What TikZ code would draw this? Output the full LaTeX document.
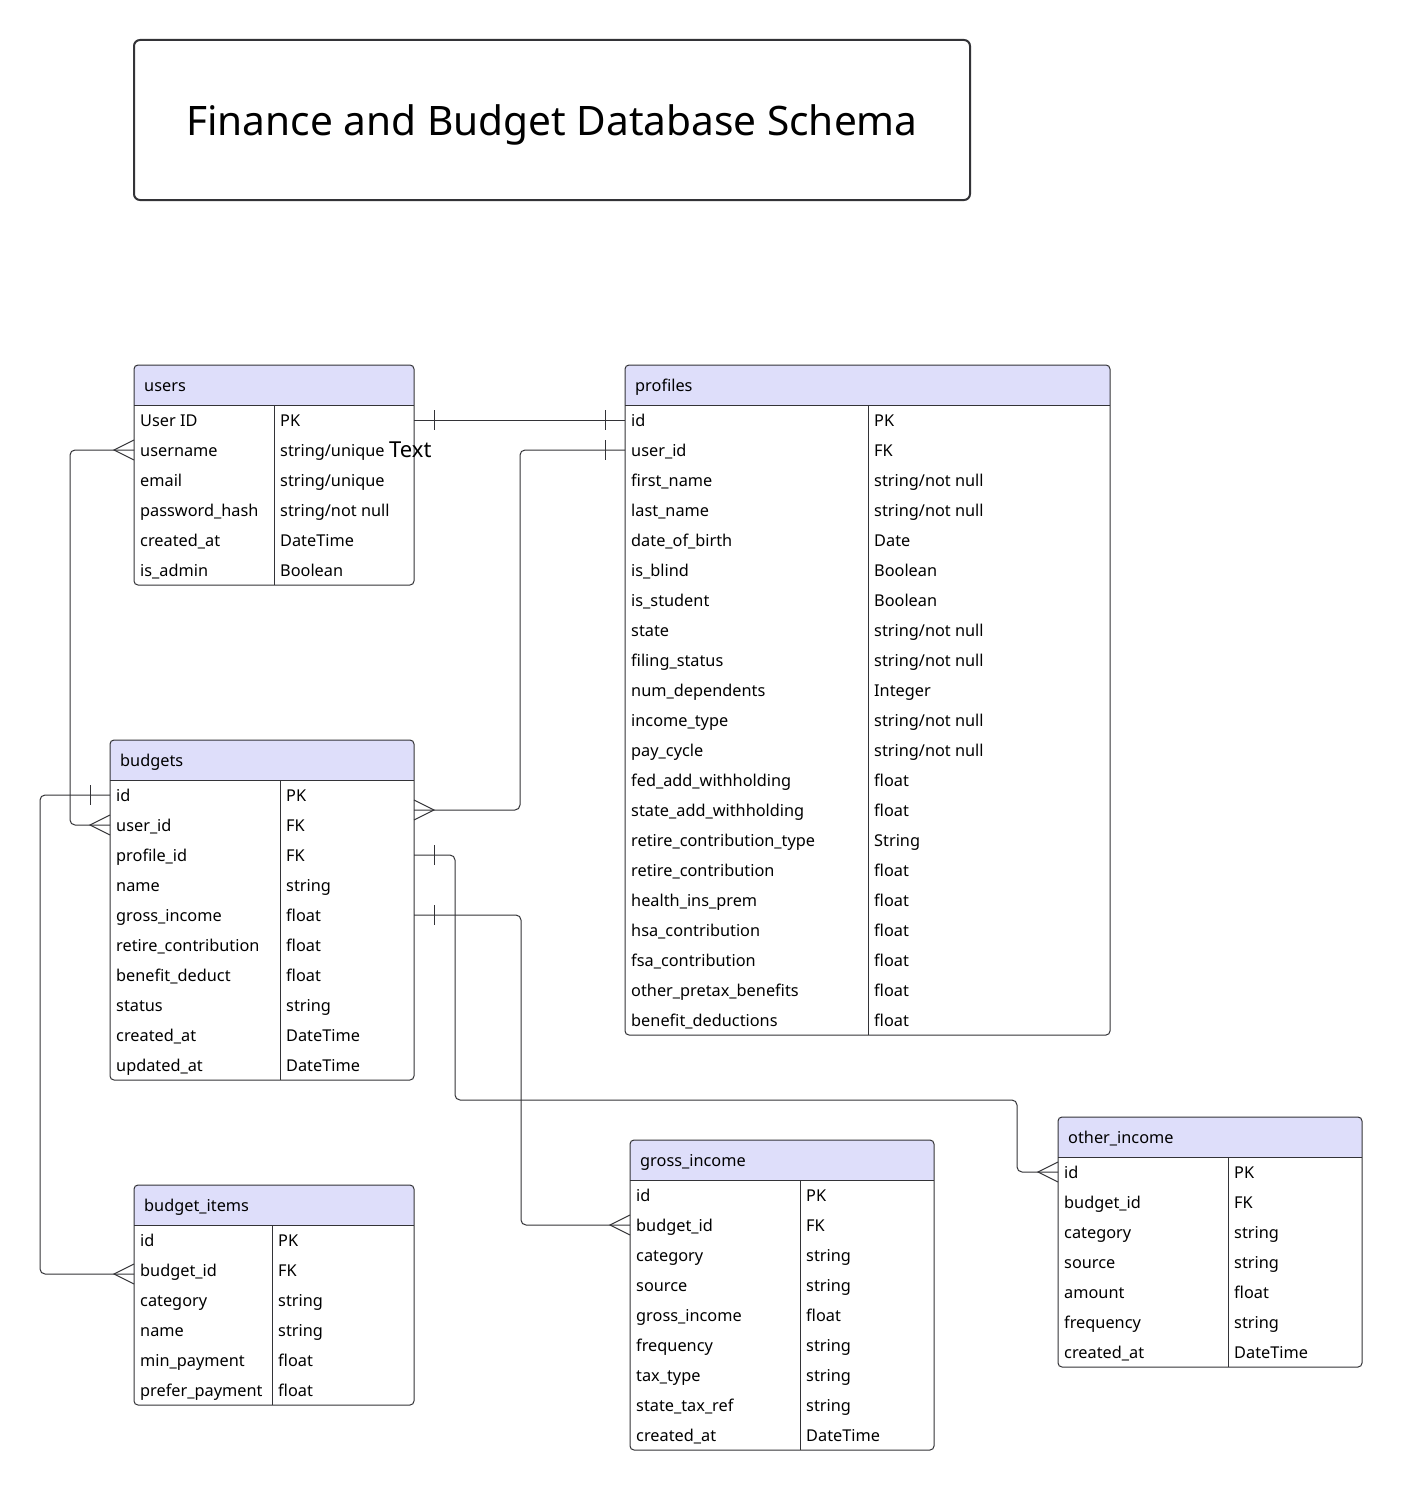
\documentclass[tikz,border=0pt]{standalone}
\usepackage{fontspec}
\setmainfont{Noto Sans}
\usetikzlibrary{calc}
\definecolor{hdr}{RGB}{222,222,250}
\definecolor{ln}{RGB}{51,51,55}
\tikzset{
  tbl/.style={draw=ln, line width=1pt},
  conn/.style={draw=ln, line width=1pt},
  cell/.style={anchor=base west, inner sep=0pt, font=\fontsize{16.3}{18}\selectfont, text=black},
}
% #1 name, #2 title, #3 x, #4 y, #5 width, #6 divider offset, #7 rows, #8 list
\newcommand{\ertable}[8]{%
  \begin{scope}
    \clip[rounded corners=4pt] (#3,#4) rectangle ({#3+#5},{#4+40+30*#7});
    \fill[hdr] (#3,#4) rectangle ({#3+#5},{#4+40});
  \end{scope}
  \node[tbl, rounded corners=4pt, outer sep=0pt, inner sep=0pt, anchor=north west,
        minimum width=#5pt, minimum height={40pt+30pt*#7}] (#1) at (#3,#4) {};
  \draw[tbl] (#3,{#4+40}) -- ({#3+#5},{#4+40});
  \draw[tbl] ({#3+#6},{#4+40}) -- ({#3+#6},{#4+40+30*#7});
  \node[cell] (#1-h) at ({#3+10},{#4+26}) {#2};
  \foreach \a/\b [count=\i] in {#8} {
    \node[cell] (#1-\i) at ({#3+6},{#4+40+30*\i-9}) {\a};
    \node[cell] (#1-\i-t) at ({#3+#6+6},{#4+40+30*\i-9}) {\b};
    \coordinate (#1-\i-L) at (#3,{#4+40+30*\i-15});
    \coordinate (#1-\i-R) at ({#3+#5},{#4+40+30*\i-15});
  }
}
\begin{document}
\begin{tikzpicture}[x=1pt,y=-1pt]
\useasboundingbox (0,0) rectangle (1402,1490);
\fill[white] (0,0) rectangle (1402,1490);

\node[draw=ln, line width=2pt, rounded corners=6pt, outer sep=0pt, anchor=north west,
      minimum width=836pt, minimum height=160pt] (title) at (134,40) {};
\node[inner sep=0pt, anchor=base, font=\fontsize{40.6}{44}\selectfont] (titletext) at (552,136) {Finance and Budget Database Schema};

\ertable{users}{users}{134}{365}{280}{140}{6}{User ID/PK, username/{string/unique}, email/{string/unique}, password\_hash/{string/not null}, created\_at/DateTime, is\_admin/Boolean}

\ertable{profiles}{profiles}{625}{365}{485}{243}{21}{id/PK, user\_id/FK, first\_name/{string/not null}, last\_name/{string/not null}, date\_of\_birth/Date, is\_blind/Boolean, is\_student/Boolean, state/{string/not null}, filing\_status/{string/not null}, num\_dependents/Integer, income\_type/{string/not null}, pay\_cycle/{string/not null}, fed\_add\_withholding/float, state\_add\_withholding/float, retire\_contribution\_type/String, retire\_contribution/float, health\_ins\_prem/float, hsa\_contribution/float, fsa\_contribution/float, other\_pretax\_benefits/float, benefit\_deductions/float}

\ertable{budgets}{budgets}{110}{740}{304}{170}{10}{id/PK, user\_id/FK, profile\_id/FK, name/string, gross\_income/float, retire\_contribution/float, benefit\_deduct/float, status/string, created\_at/DateTime, updated\_at/DateTime}

\ertable{bitems}{budget\_items}{134}{1185}{280}{138}{6}{id/PK, budget\_id/FK, category/string, name/string, min\_payment/float, prefer\_payment/float}

\ertable{gincome}{gross\_income}{630}{1140}{304}{170}{9}{id/PK, budget\_id/FK, category/string, source/string, gross\_income/float, frequency/string, tax\_type/string, state\_tax\_ref/string, created\_at/DateTime}

\ertable{oincome}{other\_income}{1058}{1117}{304}{170}{7}{id/PK, budget\_id/FK, category/string, source/string, amount/float, frequency/string, created\_at/DateTime}

\node[anchor=base west, inner sep=0pt, font=\fontsize{22}{24}\selectfont] (stray) at (389,457) {Text};

% connector: users.User ID -- profiles.id
\draw[conn] (users-1-R) -- (profiles-1-L);
\draw[conn] ($(users-1-R)+(20,-10)$) -- ($(users-1-R)+(20,10)$);
\draw[conn] ($(profiles-1-L)+(-20,-10)$) -- ($(profiles-1-L)+(-20,10)$);

% connector: users.username -- budgets.user_id
\draw[conn, rounded corners=5pt] (users-2-L) -- ++(-64,0) |- (budgets-2-L);
\draw[conn] ($(users-2-L)+(0,-10)$) -- ($(users-2-L)+(-20,0)$) -- ($(users-2-L)+(0,10)$);
\draw[conn] ($(budgets-2-L)+(0,-10)$) -- ($(budgets-2-L)+(-20,0)$) -- ($(budgets-2-L)+(0,10)$);

% connector: profiles.user_id -- budgets
\coordinate (bmid) at ($(budgets-1-R)+(0,15)$);
\draw[conn, rounded corners=5pt] (profiles-2-L) -- ++(-105,0) |- (bmid);
\draw[conn] ($(profiles-2-L)+(-20,-10)$) -- ($(profiles-2-L)+(-20,10)$);
\draw[conn] ($(bmid)+(0,-10)$) -- ($(bmid)+(20,0)$) -- ($(bmid)+(0,10)$);

% connector: budgets.id -- budget_items.budget_id
\coordinate (biend) at ($(bitems-2-L)+(0,4)$);
\draw[conn, rounded corners=5pt] (budgets-1-L) -- ++(-70,0) |- (biend);
\draw[conn] ($(budgets-1-L)+(-20,-10)$) -- ($(budgets-1-L)+(-20,10)$);
\draw[conn] ($(biend)+(0,-10)$) -- ($(biend)+(-20,0)$) -- ($(biend)+(0,10)$);

% connector: budgets.profile_id -- other_income.id
\draw[conn, rounded corners=5pt] (budgets-3-R) -- ++(41,0) -- ++(0,245) -| ($(oincome-1-L)+(-41,0)$) -- (oincome-1-L);
\draw[conn] ($(budgets-3-R)+(20,-10)$) -- ($(budgets-3-R)+(20,10)$);
\draw[conn] ($(oincome-1-L)+(0,-10)$) -- ($(oincome-1-L)+(-20,0)$) -- ($(oincome-1-L)+(0,10)$);

% connector: budgets.gross_income -- gross_income.budget_id
\draw[conn, rounded corners=5pt] (budgets-5-R) -- ++(107,0) |- (gincome-2-L);
\draw[conn] ($(budgets-5-R)+(20,-10)$) -- ($(budgets-5-R)+(20,10)$);
\draw[conn] ($(gincome-2-L)+(0,-10)$) -- ($(gincome-2-L)+(-20,0)$) -- ($(gincome-2-L)+(0,10)$);
\end{tikzpicture}
\end{document}
